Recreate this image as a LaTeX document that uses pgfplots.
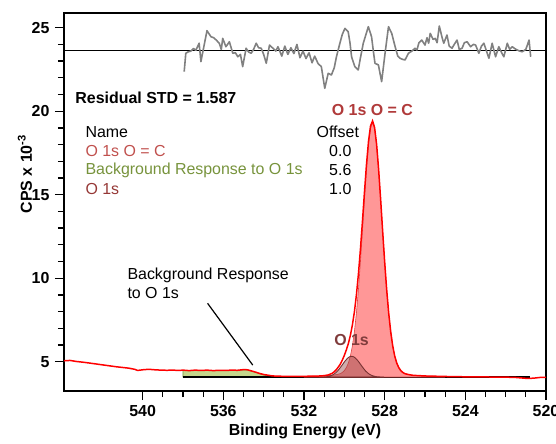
\documentclass[border=0pt]{standalone}
\usepackage{fontspec}
\setmainfont{Liberation Sans}
\usepackage{pgfplots}
\pgfplotsset{compat=1.18}
\definecolor{envred}{RGB}{255,0,0}
\definecolor{mainfill}{RGB}{255,145,145}
\definecolor{mainline}{RGB}{225,70,70}
\definecolor{o1sfill}{RGB}{150,70,70}
\definecolor{o1sline}{RGB}{120,50,50}
\definecolor{bgfill}{RGB}{196,215,140}
\definecolor{bgline}{RGB}{120,150,70}
\definecolor{baseline}{RGB}{70,25,75}
\definecolor{resgray}{RGB}{128,128,128}
\definecolor{txtred}{RGB}{192,80,77}
\definecolor{txtgreen}{RGB}{119,147,60}
\definecolor{txtbrown}{RGB}{149,55,53}
\definecolor{lblred}{RGB}{176,58,58}
\definecolor{lblbrown}{RGB}{128,60,60}
\newcommand{\myfs}{\fontsize{16}{19}\selectfont}
\begin{document}
\myfs
\begin{tikzpicture}
\path[use as bounding box] (-64bp,-53bp) rectangle (492bp,391bp);
\begin{axis}[
  name=ax, at={(0,0)}, anchor=south west,
  scale only axis, width=482bp, height=378bp,
  x dir=reverse, xmin=520, xmax=543.9, ymin=3.25, ymax=25.88,
  xtick={520,524,...,540}, ytick={5,10,...,25},
  minor x tick num=3, minor y tick num=4,
  tick align=outside,
  xtick pos=left, ytick pos=left,
  major tick length=9bp, minor tick length=6bp,
  every tick/.append style={black, line width=1.3pt},
  every major tick/.append style={black, line width=1.3pt},
  every minor tick/.append style={black, line width=1.3pt},
  axis line style={line width=1.6pt},
  /pgf/number format/assume math mode=true,
  ticklabel style={font=\myfs\bfseries},
  xlabel={Binding Energy (eV)},
  xlabel style={font=\myfs\bfseries, at={(axis description cs:0.5,-0.108)}, anchor=center},
  ylabel={CPS x 10\textsuperscript{-3}},
  ylabel style={font=\myfs\bfseries, at={(axis description cs:-0.081,0.574)}, anchor=center},
]
% residual
\addplot[black, line width=1.5pt] coordinates {(543.9,23.62) (520,23.62)};
\addplot[resgray, line width=1.6pt, line join=round] coordinates {
(537.94,22.37) (537.86,23.47) (537.75,23.55) (537.61,23.60) (537.48,23.75) (537.36,23.65)
(537.2,24.07) (537.11,22.97) (536.95,23.96) (536.81,24.82) (536.61,24.46) (536.48,24.40)
(536.36,24.27) (536.2,24.07) (536.1,23.70) (536.03,24.36) (535.87,23.86) (535.7,24.16)
(535.53,23.47) (535.4,23.50) (535.28,23.26) (535.15,23.40) (535.04,22.67) (534.87,23.77)
(534.75,23.55) (534.62,23.47) (534.5,23.70) (534.37,24.07) (534.25,23.80) (534.12,23.77)
(534.0,23.40) (533.87,22.87) (533.71,23.96) (533.54,23.77) (533.4,23.60) (533.29,23.86)
(533.1,23.30) (532.95,23.90) (532.8,23.40) (532.65,23.80) (532.5,23.45) (532.35,24.00)
(532.2,23.20) (532.05,23.60) (531.9,23.15) (531.75,23.50) (531.6,22.90) (531.47,23.30)
(531.3,22.85) (531.14,22.67) (530.97,21.37) (530.8,22.27) (530.64,22.17) (530.5,22.60)
(530.39,23.26) (530.22,24.07) (530.1,24.60) (529.97,24.96) (529.81,24.76) (529.72,24.10)
(529.64,23.26) (529.48,22.67) (529.31,22.47) (529.2,23.20) (529.06,24.07) (528.81,25.06)
(528.65,24.46) (528.55,23.50) (528.48,22.87) (528.31,22.77) (528.15,21.77) (527.98,23.47)
(527.81,25.06) (527.65,24.66) (527.48,23.86) (527.35,23.30) (527.24,23.17) (527.1,23.10)
(526.99,23.07) (526.82,23.47) (526.65,23.60) (526.49,23.77) (526.4,23.66) (526.3,24.10)
(526.16,24.26) (526.0,23.96) (525.9,24.40) (525.82,24.07) (525.74,24.66) (525.6,24.30)
(525.49,24.36) (525.4,24.10) (525.29,25.10) (525.15,24.40) (525.07,24.07) (524.91,24.56)
(524.8,23.90) (524.66,23.77) (524.55,24.00) (524.41,24.26) (524.3,23.70) (524.16,23.77)
(524.05,24.10) (523.91,24.16) (523.74,23.86) (523.6,24.00) (523.49,23.96) (523.33,23.47)
(523.2,23.90) (523.08,24.07) (522.95,23.60) (522.83,23.17) (522.67,24.07) (522.5,23.26)
(522.34,23.86) (522.2,23.50) (522.09,23.26) (521.92,24.07) (521.8,23.70) (521.67,23.86)
(521.55,23.75) (521.42,23.66) (521.3,23.60) (521.18,23.56) (521.0,23.70) (520.84,24.26)
(520.76,23.26)};
% background response (green)
\addplot[fill=bgfill, draw=bgline, line width=0.6pt] coordinates {
(538.0,4.08) (538.0,4.48) (537.0,4.48) (536.0,4.47) (535.0,4.50) (534.8,4.50) (534.6,4.44)
(534.4,4.36) (534.2,4.28) (534.0,4.20) (533.8,4.15) (533.6,4.11) (533.4,4.09) (533.2,4.08)} -- cycle;
% baseline
\addplot[baseline, line width=1.4pt] coordinates {(538.0,4.08) (520.8,4.08)};
% main component O 1s O=C
\addplot[fill=mainfill, fill opacity=0.95, draw=mainline, line width=0.6pt] coordinates {
(532,4.08) (531.6,4.13) (531.1,4.15) (530.6,4.19) (530.4,4.23) (530.2,4.29) (530.1,4.36)
(530.0,4.47) (529.9,4.65) (529.8,4.92) (529.7,5.34) (529.6,5.95) (529.5,6.80) (529.4,7.92)
(529.3,9.32) (529.2,10.99) (529.1,12.83) (529.0,14.73) (528.9,16.51) (528.8,18.00)
(528.7,18.98) (528.6,19.33) (528.5,18.98) (528.4,18.00) (528.3,16.51) (528.2,14.73)
(528.1,12.83) (528.0,10.99) (527.9,9.32) (527.8,7.92) (527.7,6.80) (527.6,5.95) (527.5,5.34)
(527.4,4.92) (527.3,4.65) (527.2,4.47) (527.1,4.36) (527.0,4.29) (526.8,4.23) (526.6,4.19)
(526.1,4.15) (525.6,4.13) (525,4.08)} -- cycle;
% O 1s component
\addplot[fill=o1sfill, fill opacity=0.45, draw=o1sline, line width=0.9pt] coordinates {
(531.24,4.08) (531.04,4.09) (530.84,4.11) (530.64,4.18) (530.54,4.24) (530.44,4.33)
(530.34,4.44) (530.24,4.59) (530.14,4.75) (530.04,4.92) (529.94,5.08) (529.84,5.21)
(529.74,5.30) (529.64,5.33) (529.54,5.30) (529.44,5.21) (529.34,5.08) (529.24,4.92)
(529.14,4.75) (529.04,4.59) (528.94,4.44) (528.84,4.33) (528.74,4.24) (528.64,4.18)
(528.44,4.11) (528.24,4.09) (528.04,4.08)} -- cycle;
% envelope / data
\addplot[envred, line width=1.5pt] coordinates {
(543.9,5.06) (543.6,5.08) (543.3,5.02) (543.0,4.98) (542.8,4.95) (542.5,4.90) (542.2,4.85)
(541.9,4.80) (541.6,4.75) (541.3,4.70) (541.0,4.66) (540.7,4.62) (540.4,4.55) (540.25,4.48)
(540.0,4.52) (539.7,4.55) (539.4,4.52) (539.1,4.50) (538.8,4.49) (538.5,4.50) (538.2,4.48)
(538.0,4.50) (537.7,4.47) (537.4,4.50) (537.1,4.48) (536.8,4.50) (536.5,4.47) (536.2,4.49)
(535.9,4.48) (535.6,4.50) (535.3,4.49) (535.0,4.53) (534.8,4.52) (534.6,4.45) (534.4,4.38)
(534.2,4.30) (534.0,4.24) (533.8,4.20) (533.6,4.16) (533.4,4.14) (533.0,4.13) (532.5,4.13)
(532.0,4.13) (531.5,4.14) (531.2,4.15) (531.0,4.17) (530.8,4.21) (530.6,4.31) (530.5,4.40)
(530.4,4.52) (530.3,4.68) (530.2,4.86) (530.1,5.10) (530.0,5.38) (529.9,5.71) (529.8,6.09)
(529.7,6.58) (529.6,7.20) (529.5,7.99) (529.4,9.01) (529.3,10.26) (529.2,11.76) (529.1,13.43)
(529.0,15.18) (528.9,16.83) (528.8,18.21) (528.7,19.12) (528.6,19.42) (528.5,19.03)
(528.4,18.03) (528.3,16.53) (528.2,14.74) (528.1,12.83) (528.0,10.99) (527.9,9.32)
(527.8,7.92) (527.7,6.80) (527.6,5.95) (527.5,5.34) (527.4,4.92) (527.3,4.65) (527.2,4.47)
(527.1,4.36) (527.0,4.29) (526.8,4.23) (526.6,4.19) (526.0,4.15) (525.0,4.12) (524.0,4.10)
(523.0,4.09) (522.0,4.08) (521.5,4.06) (521.2,4.03) (520.9,4.00) (520.6,4.02) (520.3,4.06)
(520.0,4.07)};
% annotation line
\addplot[black, line width=1.2pt] coordinates {(536.78,8.50) (534.54,4.80)};
% texts
\node[anchor=west, inner sep=0, font=\myfs\bfseries] at (axis cs:543.34,20.79) {Residual STD = 1.587};
\node[anchor=west, inner sep=0] at (axis cs:542.84,18.77) {Name};
\node[anchor=west, inner sep=0, text=txtred] at (axis cs:542.84,17.63) {O 1s O = C};
\node[anchor=west, inner sep=0, text=txtgreen] at (axis cs:542.84,16.48) {Background Response to O 1s};
\node[anchor=west, inner sep=0, text=txtbrown] at (axis cs:542.84,15.32) {O 1s};
\node[anchor=west, inner sep=0] at (axis cs:531.38,18.77) {Offset};
\node[anchor=east, inner sep=0] at (axis cs:529.64,17.63) {0.0};
\node[anchor=east, inner sep=0] at (axis cs:529.64,16.48) {5.6};
\node[anchor=east, inner sep=0] at (axis cs:529.64,15.32) {1.0};
\node[inner sep=0, font=\myfs\bfseries, text=lblred] at (axis cs:528.61,20.07) {O 1s O = C};
\node[inner sep=0, font=\myfs\bfseries, text=lblbrown] at (axis cs:529.64,6.30) {O 1s};
\node[anchor=north west, inner sep=0, align=left] at (axis cs:540.76,10.6) {Background Response\\to O 1s};
\end{axis}
\end{tikzpicture}
\end{document}
